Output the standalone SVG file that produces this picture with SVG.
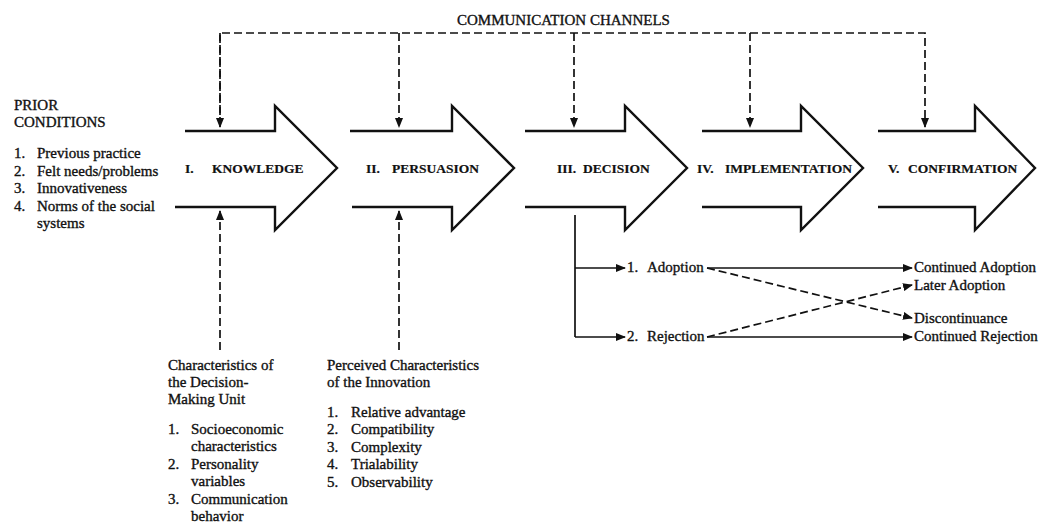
<svg xmlns="http://www.w3.org/2000/svg" width="1043" height="524" viewBox="0 0 1043 524">
<style>
text{font-family:"Liberation Serif","Times New Roman",serif;fill:#111}
.t{font-size:15px;stroke:#111;stroke-width:0.35}
.s{font-size:13.5px;font-weight:bold;stroke:#111;stroke-width:0.2}
.blk{fill:none;stroke:#111;stroke-width:2.4;stroke-linejoin:miter}
.ln{fill:none;stroke:#111;stroke-width:1.7}
.dsh{fill:none;stroke:#111;stroke-width:1.7;stroke-dasharray:8 4}
</style>
<defs>
<marker id="ah" markerUnits="userSpaceOnUse" markerWidth="10" markerHeight="8" refX="9" refY="4" orient="auto">
<path d="M0,0 L10,4 L0,8 Z" fill="#111"/>
</marker>
</defs>
<rect width="1043" height="524" fill="#fff"/>

<g id="prior-conditions">
<text class="t" x="14" y="110">PRIOR</text>
<text class="t" x="14" y="127">CONDITIONS</text>
<text class="t" x="14" y="158">1.</text><text class="t" x="37" y="158">Previous practice</text>
<text class="t" x="14" y="176">2.</text><text class="t" x="37" y="176">Felt needs/problems</text>
<text class="t" x="14" y="193">3.</text><text class="t" x="37" y="193">Innovativeness</text>
<text class="t" x="14" y="211">4.</text><text class="t" x="37" y="211">Norms of the social</text>
<text class="t" x="37" y="228">systems</text>
</g>

<g id="channels-label">
<text class="t" x="457" y="25">COMMUNICATION CHANNELS</text>
</g>

<g id="knowledge">
<path class="blk" d="M185,131 H275 V106 L337,168 L275,230 V207 H175"/>
<text class="s" x="185" y="173">I.</text><text class="s" x="212" y="173">KNOWLEDGE</text>
</g>
<g id="persuasion">
<path class="blk" d="M350,131 H452 V106 L514,168 L452,230 V207 H352"/>
<text class="s" x="366" y="173">II.</text><text class="s" x="392" y="173">PERSUASION</text>
</g>
<g id="decision">
<path class="blk" d="M525,131 H625 V106 L687,168 L625,230 V207 H525"/>
<text class="s" x="557" y="173">III.</text><text class="s" x="583" y="173">DECISION</text>
</g>
<g id="implementation">
<path class="blk" d="M702,131 H801 V106 L863,168 L801,230 V207 H702"/>
<text class="s" x="697" y="173">IV.</text><text class="s" x="725" y="173">IMPLEMENTATION</text>
</g>
<g id="confirmation">
<path class="blk" d="M878,131 H975 V106 L1035,168 L975,230 V207 H878"/>
<text class="s" x="888" y="173">V.</text><text class="s" x="908" y="173">CONFIRMATION</text>
</g>

<g id="decision-unit">
<text class="t" x="168" y="370">Characteristics of</text>
<text class="t" x="168" y="387">the Decision-</text>
<text class="t" x="168" y="404">Making Unit</text>
<text class="t" x="168" y="434">1.</text><text class="t" x="191" y="434">Socioeconomic</text>
<text class="t" x="191" y="451">characteristics</text>
<text class="t" x="168" y="469">2.</text><text class="t" x="191" y="469">Personality</text>
<text class="t" x="191" y="486">variables</text>
<text class="t" x="168" y="504">3.</text><text class="t" x="191" y="504">Communication</text>
<text class="t" x="191" y="521">behavior</text>
</g>

<g id="innovation-characteristics">
<text class="t" x="327" y="370">Perceived Characteristics</text>
<text class="t" x="327" y="387">of the Innovation</text>
<text class="t" x="327" y="417">1.</text><text class="t" x="351" y="417">Relative advantage</text>
<text class="t" x="327" y="434">2.</text><text class="t" x="351" y="434">Compatibility</text>
<text class="t" x="327" y="452">3.</text><text class="t" x="351" y="452">Complexity</text>
<text class="t" x="327" y="469">4.</text><text class="t" x="351" y="469">Trialability</text>
<text class="t" x="327" y="487">5.</text><text class="t" x="351" y="487">Observability</text>
</g>

<g id="adoption">
<text class="t" x="627" y="272">1.</text><text class="t" x="647" y="272">Adoption</text>
</g>
<g id="rejection">
<text class="t" x="627" y="341">2.</text><text class="t" x="647" y="341">Rejection</text>
</g>
<g id="outcomes">
<text class="t" x="914" y="272">Continued Adoption</text>
<text class="t" x="914" y="290">Later Adoption</text>
<text class="t" x="914" y="323">Discontinuance</text>
<text class="t" x="914" y="341">Continued Rejection</text>
</g>

<g id="connectors">
<path class="dsh" d="M220,127 V33 H925 V127" marker-end="url(#ah)"/>
<path class="dsh" d="M220,33 V127" marker-end="url(#ah)"/>
<path class="dsh" d="M399,33 V127" marker-end="url(#ah)"/>
<path class="dsh" d="M574,33 V127" marker-end="url(#ah)"/>
<path class="dsh" d="M750,33 V127" marker-end="url(#ah)"/>
<path class="dsh" d="M220,350 V211" marker-end="url(#ah)"/>
<path class="dsh" d="M399,350 V211" marker-end="url(#ah)"/>
<path class="ln" d="M575,215 V337"/>
<path class="ln" d="M575,268 H625" marker-end="url(#ah)"/>
<path class="ln" d="M575,337 H625" marker-end="url(#ah)"/>
<path class="ln" d="M707,268 H912" marker-end="url(#ah)"/>
<path class="ln" d="M707,337 H912" marker-end="url(#ah)"/>
<path class="dsh" d="M707,268 L912,318" marker-end="url(#ah)"/>
<path class="dsh" d="M707,337 L912,285" marker-end="url(#ah)"/>
</g>
</svg>
